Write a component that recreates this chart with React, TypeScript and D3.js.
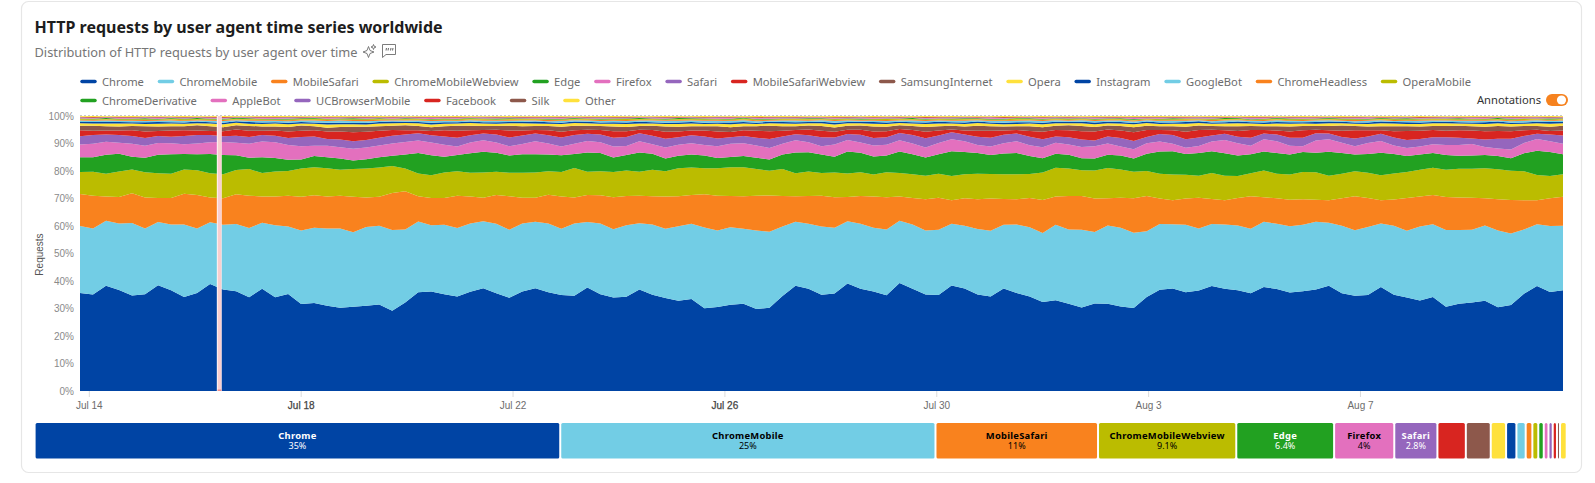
import React, { useEffect, useRef } from 'react';
import * as d3 from 'd3';

const WIDTH = 1595;
const HEIGHT = 483;

const agents = [
  'Chrome', 'ChromeMobile', 'MobileSafari', 'ChromeMobileWebview', 'Edge', 'Firefox', 'Safari',
  'MobileSafariWebview', 'SamsungInternet', 'Opera', 'Instagram', 'GoogleBot', 'ChromeHeadless',
  'OperaMobile', 'ChromeDerivative', 'AppleBot', 'UCBrowserMobile', 'Facebook', 'Silk', 'Other',
];
const palette = ['#0044a4', '#72cde5', '#f9821e', '#bbbc00', '#22a121', '#e370be', '#9566bd', '#d82520', '#8d584b', '#ffe13c'];
const darkLabel = ['ChromeMobile', 'MobileSafari', 'ChromeMobileWebview', 'Firefox'];

// shares per time step, normalised when stacked
const chrome = [
  36.3,35.8,39,37.5,35.4,36,39.3,37.4,34.8,36.3,39.8,37.8,36.8,34.8,38,34.8,36.1,32.3,32.6,31.7,31,31.5,31.8,32.1,29.7,32.8,36.6,37,35.8,35.1,36.8,38,36.1,34.6,36.9,38,36.6,35.8,
  35.3,38.3,35.8,34.8,35.1,37.5,35.6,34.7,33.6,34.1,30.7,31.3,32.2,32.3,30.4,31,35.3,39,37.8,35.7,36.3,39.8,37.8,37,35.6,39.8,37.8,36,35.6,39,38,35.8,35.1,38,36.3,35.1,33.2,
  33.6,32.3,31.1,32.6,32.2,31.3,31,34.8,37.5,38,36.8,37.2,38.8,37.9,37.4,36.2,38.5,37.8,36.7,37,37.5,39,36.3,35.3,35.6,38.5,35.8,34.7,33.6,34.8,31.3,32.3,32.8,33.6,31.1,32,36,38.8,36.8,37.4,
];
const chromeMobile = [
  24.8,24.5,24.1,24.6,26.8,24.5,23.5,24.3,26.9,24,22.9,24,24.9,25.7,24.5,26.7,25.2,27.3,27.9,28.8,29.5,27.8,29.3,29.2,29.9,27,26.2,24.6,25.8,25.4,25.3,24.8,25.7,25.2,25.2,24.6,25.5,24.7,
  26.8,24.2,26.2,25.4,26.6,24.5,26,25.8,27.7,27.9,29.9,28.5,28.9,27.8,29.2,28.2,25.8,23.6,24,25.4,24.5,23,24,23.8,24.5,23,23.8,23.8,24.2,22.8,23.3,24.3,24.4,23.7,25.3,25.7,25.7,
  27.9,27.5,28.9,26.6,28.9,29.2,28.1,24.3,24.3,23.8,25.2,22.9,23,23.8,24.1,23.9,24.1,24.2,24.6,24.6,25.1,23.3,25,24.3,25.2,23.6,25.7,24.8,27.5,26.9,28.5,27.3,27,28,28.5,26.6,23.8,22.9,24.5,23.9,
];
const mobileSafari = [
  11.9,12.2,9,9.8,11.1,11.5,8.9,9.9,11.4,12.4,9.2,9.9,11,12,9.7,10.6,11.4,12.5,12,11.9,12.2,13.2,11,10.8,13.7,14.2,9.4,10.1,9.9,12,10,8.7,10.7,12.4,9.6,8.9,10.6,12,
  9.6,10,10.5,11.9,10.8,10.2,10.5,12,11.2,10.7,12.4,12.9,11.6,12.1,12.9,13.5,11.3,9.5,10.2,11.4,11.4,8.9,10.3,11.6,12,8.9,9.8,11.7,11.9,8.7,10.2,11.1,12,9.5,9.4,10.9,12.3,
  10.5,12.4,12.5,12.5,10.1,11.2,12.9,13.1,9.4,8.9,9.7,11.4,9.2,9,10.2,12,9.1,9.5,9.9,9.4,8.1,8.4,10.2,12.6,10.7,8.6,9.7,12.2,11.1,10.8,12.2,12.1,11.9,10.1,11.6,12.4,10.9,8.8,10.3,10.7,
];
const chromeMobileWebview = [
  8.1,8.9,8.5,9.5,8.8,9.4,9.2,9,9,9.2,9,8.9,8.9,9.9,8.7,9.3,9.2,10.5,10.4,10.5,9.7,10.4,10.8,10.9,10,8.4,8.4,8.5,9.4,9.1,8.8,9.4,8.6,8.7,9.2,9.4,8.7,9.1,
  10.9,8.6,8.8,9.3,9.5,8.9,9.8,9.4,10.4,10.2,9.6,10.2,10.8,10.7,9.9,9.2,10,8.5,9.1,8.4,9.2,8.7,8.8,8.2,9.3,8.7,8.8,8.7,8.9,8.9,8.9,9.4,9.1,9.2,9.2,8.9,10.2,
  10.6,10.2,9.6,10.4,11.2,10.4,9.9,9.2,9.2,9.5,8.9,8.2,9.6,9,8.2,8.5,9.9,9.1,9.4,10.1,10.2,9,9.1,9.2,9.4,9.2,9.7,9.7,9.9,10.1,10.1,10.6,10.7,11.2,11.2,10.9,10.7,9.4,8.3,8.4,
];
const edge = [
  5.5,5.4,7,6.6,4.7,5.4,6.9,7.2,5.7,5.9,7.2,7.2,5.5,4.2,5.9,5,4.2,3.3,4.2,4.1,4.2,3.2,3.5,3.8,3.8,5.2,7.6,7.4,5.9,6,7.2,7.7,7,6.4,6.9,6.7,6.2,6.2,
  5.2,7.1,6.8,5.4,5.8,7.1,5.9,4.7,4.7,4.8,4.7,3.9,3.8,4.2,4.2,4.2,5.4,7.7,7.1,6.9,5.9,8.2,7.2,6.7,6.2,7.9,7.4,6.8,7.2,9.2,8.2,7.7,7,7.7,7.9,6.7,5.3,
  5.2,5.1,4.5,4.5,4.9,5.2,4.9,6.4,8.2,8.6,7.7,8.4,8.1,8.4,7.6,7,7,7.7,7.4,7.4,7.2,8.9,7.7,6.2,6.9,8.4,7.2,5.9,5.7,5.5,5.5,4.8,4.9,4.9,4.9,4.7,6.7,8.9,8.9,7.4,
];
const firefox = [
  4.7,5,4.8,4.1,4.8,4.5,4.4,4.1,3.6,4,4.3,4.8,4.6,5.2,5.8,5.9,5.5,4.9,3.8,4.3,4.2,4.3,4.4,4.3,4.5,4.7,4.6,4.7,4.4,3.2,4,4.2,3.8,3.5,3.8,4.8,4.1,3.3,
  3.8,4.2,4,4.1,3.3,4.1,3.5,4.1,4.1,4.2,3.9,4.3,4.9,4.7,4.5,4.3,4,4.5,3.7,3.1,4.6,4.2,3.8,4.1,4,4.1,4,3.8,4.2,4.4,4,3,3.2,3.8,4.3,4,4.1,
  4.1,3.8,4.2,4.5,4.1,3.4,3.5,3.9,3.7,2.8,2.4,2.6,3.6,4.9,4.6,3.2,4.6,4.3,3.3,2.2,4.5,4.7,3.8,3.1,4.1,4.3,3.2,3,3,3.2,3.7,4,4.3,3,2.8,3.2,3.8,4.4,4,3.9,
];
const safari = [
  3.1,3.2,2.7,2.8,2.9,2.9,2.6,2.4,3.1,3.1,2.7,2.2,2.6,2.5,2.4,2.4,2.6,3.5,3.4,2.5,2.8,2.8,2.8,2.9,2.9,2.7,2.7,2.7,3.1,3.2,2.7,2.5,2.9,3.2,3.2,2.9,3.1,3.4,
  3.2,2.7,2.8,3.3,3.4,3,3.2,3.3,2.8,2.9,3.2,2.9,2.5,2.7,2.9,3.3,2.7,2.2,2.6,3.3,2.6,2.2,2.8,2.8,2.8,2.7,3.1,3.4,2.8,2.6,2.5,3.1,3.2,3.1,2.9,3.2,3,
  2.3,2.7,2.8,2.2,2.6,3.1,3,2.3,2.8,3.2,3.1,3.1,2.2,2.3,2.4,2.9,2.1,2.5,3,3.1,2.7,2.1,2.2,2.9,2.4,2.7,3,3,2.8,2.6,2.9,2.7,2,2.8,3.6,4,2.6,1.9,2.5,3.1,
];
const mobileSafariWebview = [
  2.2,1.6,1.5,1.7,2.1,2.4,1.8,2.3,2.1,1.7,1.5,1.8,2.3,2.3,1.6,1.9,2.4,2.3,2.3,2.8,3,3.4,3,2.6,2.1,1.6,1.1,1.6,2.3,2.6,1.8,1.3,1.8,2.6,1.8,1.3,1.8,2.1,
  1.8,1.5,1.7,2.4,2.1,1.3,2.1,2.6,2.1,1.8,2.2,2.6,1.9,2.1,2.6,2.9,2.1,1.6,2.1,2.4,2.1,1.6,1.9,2.4,2.2,1.5,1.9,2.4,1.8,1,1.5,2.2,2.6,1.6,1.3,2.1,2.8,
  2.4,2.6,3,3.3,2.6,2.8,3.3,2.6,1.5,1.8,2.8,2.8,2.1,1.3,2.1,2.9,1.3,1.5,2.3,2.8,1.3,1.2,2.3,3,2.3,1.3,2.3,3.3,3,2.7,2.4,2.8,3,3,2.9,2.8,2.1,1.5,1.3,1.8,
];
const samsungInternet = [
  1.7,1.9,1.6,1.5,1.6,2,1.7,1.6,1.5,1.9,1.8,1.5,1.6,1.8,1.6,1.5,1.7,1.9,1.5,1.4,1.7,2.1,1.9,1.7,1.6,1.9,1.6,1.4,1.5,1.9,1.7,1.5,1.4,1.8,1.6,1.5,1.6,1.9,
  1.7,1.5,1.5,1.8,1.6,1.4,1.6,2,1.8,1.6,1.6,2,1.8,1.5,1.7,2.1,1.7,1.4,1.5,1.8,1.6,1.5,1.6,1.9,1.7,1.4,1.5,1.8,1.6,1.4,1.5,1.9,1.7,1.5,1.4,1.8,1.7,
  1.6,1.8,2,1.7,1.5,1.7,1.9,1.6,1.4,1.5,1.9,1.7,1.4,1.5,1.8,1.5,1.4,1.6,1.9,1.6,1.4,1.6,1.9,1.6,1.4,1.5,1.9,1.8,1.6,1.5,1.8,1.7,1.6,1.7,1.9,1.8,1.6,1.4,1.6,1.8,
];
const opera = [
  .9,.8,1,1.1,.9,.8,1,1,.9,.8,1,1.1,.9,.8,.9,1.1,1,.8,.9,1.2,1,.9,.8,
  1,.9,.8,1,1,.9,.8,1,.9,.8,.9,1.1,.9,.8,1,1,.9,.8,1,1.1,.9,.8,.9,1,
  1,.8,.9,1.1,1,.8,.9,1,.9,.8,1,1.1,.9,.8,1,1,.8,.9,1.1,1,.8,.9,1,.9,
  .8,.8,1,1.1,.9,.8,1,1,.8,.9,1.1,1,.8,.9,1.1,.9,.8,1,1.1,.9,.8,1,1,
  .9,.8,1,.9,.8,.9,1.1,1,.8,.9,1,1,.8,.9,1,1,.9,.8,1,1.1,.9,.8,.9,
];
const instagram = [
  .5,.6,.5,.6,.5,.6,.7,.5,.5,.6,.5,.6,.5,.6,.6,.5,.6,.5,.5,.7,.6,.5,.6,
  .5,.6,.5,.5,.7,.6,.5,.6,.5,.6,.5,.5,.7,.6,.5,.5,.6,.5,.5,.6,.7,.5,.5,
  .6,.6,.5,.5,.7,.6,.5,.5,.6,.6,.5,.6,.7,.5,.5,.6,.6,.5,.5,.6,.7,.5,.6,
  .5,.5,.6,.7,.5,.6,.6,.5,.6,.7,.6,.5,.5,.6,.6,.5,.7,.6,.5,.5,.6,.5,.6,
  .6,.5,.5,.7,.6,.5,.5,.6,.6,.5,.7,.6,.5,.6,.5,.5,.7,.6,.5,.5,.6,.6,.5,
];
const googleBot = [
  .5,.4,.6,.4,.5,.5,.4,.6,.5,.4,.5,.6,.4,.5,.6,.5,.5,.6,.7,.6,.8,.7,.6,
  .5,.4,.4,.5,.6,.5,.4,.4,.5,.5,.4,.5,.4,.4,.6,.5,.4,.5,.6,.5,.4,.6,.7,
  .6,.5,.7,.6,.5,.6,.5,.4,.5,.6,.4,.5,.6,.5,.4,.5,.5,.4,.6,.5,.4,.5,.6,
  .5,.5,.6,.5,.6,.6,.5,.4,.5,.5,.4,.6,.5,.4,.5,.6,.4,.4,.5,.6,.5,.4,.5,
  .6,.5,.4,.5,.5,.4,.5,.6,.5,.4,.4,.6,.5,.4,.5,.6,.5,.4,.5,.6,.5,.4,.5,
];
const chromeHeadless = [
  .3,.3,.4,.3,.3,.4,.3,.4,.3,.3,.3,.4,.3,.4,.3,.3,.4,.3,.3,.4,.3,.4,.5,
  .4,.3,.3,.3,.4,.3,.3,.3,.4,.3,.4,.3,.3,.4,.3,.3,.3,.4,.3,.4,.3,.3,.3,
  .4,.3,.3,.4,.3,.3,.4,.3,.3,.3,.4,.3,.4,.3,.3,.3,.4,.3,.3,.4,.3,.3,.4,
  .3,.3,.3,.4,.3,.4,.3,.3,.3,.4,.3,.3,.4,.3,.3,.3,.4,.3,.4,.3,.3,.3,.4,
  .3,.3,.4,.3,.3,.3,.4,.3,.3,.4,.3,.4,.3,.3,.3,.4,.3,.3,.4,.3,.3,.3,.4,
];
const operaMobile = [
  .3,.3,.2,.3,.3,.3,.2,.3,.4,.3,.3,.2,.3,.3,.3,.2,.3,.3,.4,.3,.2,.3,.3,
  .3,.2,.3,.3,.2,.3,.3,.4,.3,.2,.3,.3,.3,.2,.3,.3,.3,.2,.3,.4,.3,.3,.2,
  .3,.3,.3,.2,.3,.4,.3,.2,.3,.3,.3,.2,.3,.3,.2,.3,.4,.3,.3,.2,.3,.3,.3,
  .2,.3,.3,.4,.3,.2,.3,.3,.3,.2,.3,.3,.3,.2,.4,.3,.3,.2,.3,.3,.3,.2,.3,
  .3,.4,.3,.2,.3,.3,.3,.2,.3,.3,.4,.2,.3,.3,.3,.2,.3,.3,.3,.4,.2,.3,.3,
];
const chromeDerivative = [
  .2,.2,.3,.2,.2,.3,.2,.2,.2,.3,.2,.2,.3,.2,.2,.2,.3,.2,.2,.2,.3,.3,.2,
  .2,.2,.3,.2,.2,.2,.3,.2,.2,.3,.2,.2,.2,.3,.2,.2,.2,.3,.2,.2,.3,.2,.2,
  .3,.2,.2,.2,.3,.2,.2,.3,.2,.2,.2,.3,.2,.2,.3,.2,.2,.2,.3,.2,.2,.3,.2,
  .2,.3,.2,.2,.2,.3,.2,.2,.2,.3,.2,.2,.3,.2,.2,.3,.2,.2,.2,.3,.2,.2,.2,
  .3,.2,.2,.3,.2,.2,.2,.3,.2,.2,.3,.2,.2,.2,.3,.2,.2,.3,.2,.2,.2,.3,.2,
];
const appleBot = [
  .2,.2,.1,.2,.2,.2,.3,.2,.1,.2,.2,.2,.1,.2,.2,.3,.2,.1,.2,.2,.2,.1,.2,
  .2,.2,.1,.2,.3,.2,.2,.1,.2,.2,.2,.1,.2,.2,.3,.2,.1,.2,.2,.1,.2,.2,.2,
  .1,.2,.2,.3,.2,.1,.2,.2,.2,.1,.2,.2,.2,.1,.3,.2,.2,.1,.2,.2,.2,.1,.2,
  .2,.3,.2,.1,.2,.2,.1,.2,.2,.2,.1,.2,.3,.2,.2,.1,.2,.2,.2,.1,.2,.3,.2,
  .1,.2,.2,.2,.1,.2,.2,.3,.1,.2,.2,.2,.1,.2,.2,.2,.3,.1,.2,.2,.2,.1,.2,
];
const ucBrowserMobile = [
  .2,.1,.2,.2,.1,.2,.2,.1,.2,.1,.2,.2,.1,.2,.2,.1,.2,.2,.1,.2,.1,.2,.2,
  .1,.2,.2,.1,.2,.2,.1,.1,.2,.2,.1,.2,.1,.2,.2,.1,.2,.2,.1,.2,.1,.2,.2,
  .1,.2,.1,.2,.2,.1,.2,.2,.1,.2,.2,.1,.1,.2,.2,.1,.2,.2,.1,.2,.1,.2,.2,
  .1,.2,.2,.1,.2,.1,.2,.2,.1,.2,.2,.1,.2,.1,.2,.2,.1,.2,.2,.1,.1,.2,.2,
  .1,.2,.2,.1,.2,.1,.2,.2,.1,.2,.2,.1,.2,.2,.1,.2,.1,.2,.2,.1,.2,.2,.1,
];
const facebook = [
  .1,.2,.1,.2,.2,.1,.2,.1,.2,.1,.2,.2,.1,.1,.2,.2,.1,.2,.1,.2,.1,.2,.2,
  .1,.2,.1,.2,.1,.2,.2,.1,.1,.2,.1,.2,.2,.1,.2,.1,.2,.1,.2,.2,.1,.1,.2,
  .2,.1,.2,.1,.2,.1,.2,.2,.1,.2,.1,.1,.2,.2,.1,.2,.1,.2,.1,.2,.2,.1,.1,
  .2,.1,.2,.2,.1,.2,.1,.2,.1,.1,.2,.2,.1,.2,.1,.2,.2,.1,.1,.2,.1,.2,.2,
  .1,.2,.1,.2,.1,.2,.2,.1,.2,.1,.1,.2,.2,.1,.2,.1,.2,.1,.2,.2,.1,.2,.1,
];
const silk = [
  .08,.1,.07,.08,.09,.07,.1,.08,.08,.07,.09,.1,.08,.07,.08,.09,.1,.07,.08,.08,.09,.07,.1,
  .07,.08,.09,.1,.08,.07,.08,.1,.09,.07,.08,.09,.08,.1,.07,.08,.08,.09,.07,.1,.08,.09,.07,
  .09,.08,.07,.1,.08,.09,.07,.08,.1,.08,.07,.09,.08,.1,.07,.08,.09,.08,.07,.1,.09,.08,.07,
  .08,.09,.1,.07,.08,.08,.09,.07,.1,.08,.09,.07,.08,.1,.08,.07,.09,.08,.1,.07,.08,.09,.08,
  .1,.07,.08,.09,.08,.07,.1,.09,.08,.07,.08,.1,.08,.09,.07,.08,.1,.07,.09,.08,.08,.07,.09,
];
const other = [
  .3,.4,.3,.3,.4,.3,.3,.3,.4,.3,.3,.4,.3,.3,.3,.4,.4,.3,.3,.3,.4,.3,.3,
  .4,.3,.3,.3,.4,.3,.4,.3,.3,.3,.4,.3,.3,.4,.3,.3,.3,.4,.4,.3,.3,.3,.4,
  .3,.3,.4,.3,.3,.3,.4,.3,.4,.3,.3,.3,.4,.3,.3,.4,.3,.3,.3,.4,.3,.4,.3,
  .3,.3,.4,.3,.3,.4,.3,.3,.3,.4,.3,.3,.4,.3,.4,.3,.3,.3,.4,.3,.3,.4,.3,
  .3,.3,.4,.3,.3,.4,.3,.3,.3,.4,.3,.4,.3,.3,.3,.4,.3,.3,.4,.3,.3,.4,.3,
];
const seriesValues = [
  chrome, chromeMobile, mobileSafari, chromeMobileWebview, edge, firefox, safari, mobileSafariWebview,
  samsungInternet, opera, instagram, googleBot, chromeHeadless, operaMobile, chromeDerivative,
  appleBot, ucBrowserMobile, facebook, silk, other,
];

// overall share of each agent, for the bar under the chart
const totals = [34.6, 24.7, 10.7, 9.1, 6.44, 3.96, 2.84, 1.87, 1.64, 1.01, 0.68, 0.61, 0.44, 0.39, 0.36, 0.31, 0.28, 0.28, 0.2, 0.44];
const labelledTotals = 7;

const rangeStart = new Date(2024, 6, 13, 20);
const rangeEnd = new Date(2024, 7, 10, 20);
const annotationStart = new Date(2024, 6, 16, 10);
const annotationEnd = new Date(2024, 6, 16, 12, 10);
const xTicks = [[6, 14], [6, 18], [6, 22], [6, 26], [6, 30], [7, 3], [7, 7]].map(([m, d]) => new Date(2024, m, d));
const strongTicks = ['Jul 18', 'Jul 26'];
const yTicks = [0, 0.1, 0.2, 0.3, 0.4, 0.5, 0.6, 0.7, 0.8, 0.9, 1];

const sans = '"Noto Sans", sans-serif';
const axisFont = '"Liberation Sans", Arial, sans-serif';

const App: React.FC = () => {
  const svgRef = useRef<SVGSVGElement>(null);

  useEffect(() => {
    if (!svgRef.current) return;
    const svg = d3.select(svgRef.current);
    svg.selectAll('*').remove();

    const margin = { top: 116, bottom: 391, left: 80, right: 1563 };
    const n = chrome.length;
    const step = (+rangeEnd - +rangeStart) / (n - 1);

    const rows = chrome.map((_, i) => {
      const row: Record<string, number | Date> = { time: new Date(+rangeStart + i * step) };
      agents.forEach((a, j) => { row[a] = seriesValues[j][i]; });
      return row;
    });

    const color = d3.scaleOrdinal<string, string>().domain(agents).range(palette);
    const x = d3.scaleTime().domain([rangeStart, rangeEnd]).range([margin.left, margin.right]);
    const y = d3.scaleLinear().domain([0, 1]).range([margin.bottom, margin.top]);

    // Card
    svg.append('rect')
      .attr('x', 21.5).attr('y', 1.5).attr('width', 1560).attr('height', 471).attr('rx', 7)
      .attr('fill', '#fff').attr('stroke', '#e6e6e6').attr('stroke-width', 1.2);

    // Title
    svg.append('text').attr('x', 34.5).attr('y', 33)
      .style('font', `700 16px ${sans}`).attr('fill', '#1d1d1d')
      .text('HTTP requests by user agent time series worldwide');
    svg.append('text').attr('x', 34.5).attr('y', 57)
      .style('font', `400 12.8px ${sans}`).attr('fill', '#767676')
      .text('Distribution of HTTP requests by user agent over time');

    // Sparkle and quote icons next to the subtitle
    const icons = svg.append('g').attr('fill', 'none').attr('stroke', '#6d6d6d').attr('stroke-width', 0.9);
    icons.append('path').attr('d', 'M368.5 46.5 L370 50.5 L374 52 L370 53.5 L368.5 57.5 L367 53.5 L363 52 L367 50.5 Z');
    icons.append('path').attr('d', 'M373.5 44.5 L374.2 46.3 L376 47 L374.2 47.7 L373.5 49.5 L372.8 47.7 L371 47 L372.8 46.3 Z');
    icons.append('path').attr('d', 'M382.5 44.5 H395.5 V54.5 H386 L382.5 57.5 Z');
    icons.append('path').attr('d', 'M386.5 48 L386 50.5 M388.5 48 L388 50.5 M391 48 L390.5 50.5 M393 48 L392.5 50.5').attr('stroke-width', 1.1);

    // Legend, flowed from the measured text widths
    const legend = svg.append('g');
    let lx = 80.5;
    let ly = 81.5;
    agents.forEach((a) => {
      const label = legend.append('text').attr('x', lx + 21.5).attr('y', ly + 4)
        .style('font', `400 11.2px ${sans}`).attr('fill', '#6d6d6d').text(a);
      const w = (label.node() as SVGTextElement).getComputedTextLength();
      if (lx + 21.5 + w > 1500) {
        lx = 80.5;
        ly += 19;
        label.attr('x', lx + 21.5).attr('y', ly + 4);
      }
      legend.append('line').attr('x1', lx + 1.5).attr('x2', lx + 14.5).attr('y1', ly).attr('y2', ly)
        .attr('stroke', color(a)).attr('stroke-width', 3.5).attr('stroke-linecap', 'round');
      lx += 21.5 + w + 14;
    });

    // Annotations toggle
    svg.append('text').attr('x', 1541).attr('y', 104).attr('text-anchor', 'end')
      .style('font', `400 11.2px ${sans}`).attr('fill', '#333').text('Annotations');
    svg.append('rect').attr('x', 1546).attr('y', 94).attr('width', 22).attr('height', 12).attr('rx', 6).attr('fill', '#f6821f');
    svg.append('circle').attr('cx', 1561.5).attr('cy', 100).attr('r', 4.6).attr('fill', '#fff');

    // Stacked areas
    const stack = d3.stack<any>().keys(agents).offset(d3.stackOffsetExpand);
    const area = d3.area<any>()
      .x((d) => x(d.data.time))
      .y0((d) => y(d[0]))
      .y1((d) => y(d[1]));
    svg.append('g').selectAll('path').data(stack(rows)).enter().append('path')
      .attr('d', area as any)
      .attr('fill', (d) => color(d.key));

    // Dotted 100% line along the top
    svg.append('line').attr('x1', margin.left).attr('x2', margin.right).attr('y1', y(1) - 0.5).attr('y2', y(1) - 0.5)
      .attr('stroke', '#c9c9c9').attr('stroke-dasharray', '2,2');

    // Annotation band
    const ax0 = x(annotationStart);
    const ax1 = x(annotationEnd);
    svg.append('rect').attr('x', ax0).attr('y', y(1)).attr('width', ax1 - ax0).attr('height', y(0) - y(1)).attr('fill', '#fff');
    svg.append('rect').attr('x', ax0 + 0.8).attr('y', y(1)).attr('width', ax1 - ax0 - 1).attr('height', y(0) - y(1)).attr('fill', '#f9cfcf');
    svg.append('rect').attr('x', ax0 + 0.8).attr('y', y(0) - 1.5).attr('width', ax1 - ax0 - 1).attr('height', 1.5).attr('fill', '#ef8d8d');

    // Axes
    const yAxis = svg.append('g').attr('transform', `translate(${margin.left - 5},0)`)
      .call(d3.axisLeft(y).tickValues(yTicks).tickFormat(d3.format('.0%') as any).tickSize(0).tickPadding(1));
    yAxis.select('.domain').remove();
    yAxis.selectAll('text').style('font', `400 10px ${axisFont}`).attr('fill', '#8a8a8a');

    const fmt = d3.timeFormat('%b %-d');
    const xAxis = svg.append('g').attr('transform', `translate(0,${margin.bottom})`)
      .call(d3.axisBottom(x).tickValues(xTicks).tickFormat(fmt as any).tickSize(6).tickPadding(5));
    xAxis.select('.domain').remove();
    xAxis.selectAll('line').attr('stroke', '#dcdcdc');
    xAxis.selectAll('text').style('font', `400 10px ${axisFont}`)
      .attr('fill', (d: any) => (strongTicks.includes(fmt(d)) ? '#444' : '#6d6d6d'))
      .attr('stroke', (d: any) => (strongTicks.includes(fmt(d)) ? '#444' : 'none'))
      .attr('stroke-width', 0.25);

    svg.append('text')
      .attr('transform', `translate(43,${(y(0) + y(1)) / 2 + 1}) rotate(-90)`)
      .attr('text-anchor', 'middle')
      .style('font', `400 10px ${axisFont}`).attr('fill', '#555').text('Requests');

    // Totals bar
    const barX = d3.scaleLinear().domain([0, d3.sum(totals)]).range([35.6, 1567.7]);
    const pct = d3.format('.2~r');
    let cum = 0;
    const bar = svg.append('g');
    agents.forEach((a, i) => {
      const x0 = barX(cum);
      const x1 = barX(cum + totals[i]) - 2;
      cum += totals[i];
      bar.append('rect').attr('x', x0).attr('y', 423).attr('width', x1 - x0).attr('height', 35.5).attr('rx', 1.5)
        .attr('fill', color(a));
      if (i < labelledTotals) {
        const fill = darkLabel.includes(a) ? '#000' : '#fff';
        bar.append('text').attr('x', (x0 + x1) / 2).attr('y', 439).attr('text-anchor', 'middle')
          .style('font', `700 9.4px ${sans}`).style('letter-spacing', '0.25px').attr('fill', fill).text(a);
        bar.append('text').attr('x', (x0 + x1) / 2).attr('y', 449).attr('text-anchor', 'middle')
          .style('font', `400 9px ${sans}`).attr('fill', fill).text(`${pct(totals[i])}%`);
      }
    });
  }, []);

  return (
    <svg
      ref={svgRef}
      width={WIDTH}
      height={HEIGHT}
      viewBox={`0 0 ${WIDTH} ${HEIGHT}`}
      style={{ position: 'absolute', left: 0, top: 0, display: 'block', background: '#fff' }}
    />
  );
};

export default App;
